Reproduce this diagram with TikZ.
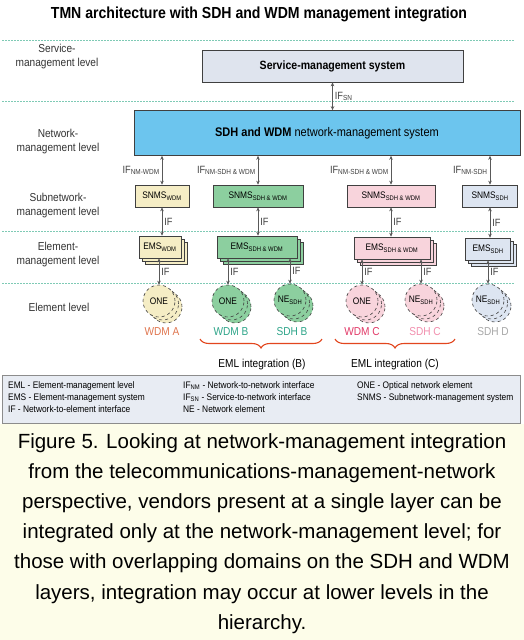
\documentclass[tikz,border=0pt]{standalone}
\usepackage{fontspec}
\setmainfont{Liberation Sans}
\newfontfamily\condfont[FakeStretch=0.88]{Liberation Sans}
\usetikzlibrary{
    arrows.meta,
    decorations.pathreplacing,
    positioning
}
\definecolor{svcfill}{HTML}{DFE4EE}
\definecolor{nmsfill}{HTML}{6CC5EE}
\definecolor{wdmfill}{HTML}{F5EDC5}
\definecolor{grnfill}{HTML}{8CCF9F}
\definecolor{pnkfill}{HTML}{F8D4DC}
\definecolor{sdhfill}{HTML}{DDE5F1}
\definecolor{sepgreen}{HTML}{7FCAB5}
\definecolor{braceclr}{HTML}{E2461E}
\definecolor{wdmAclr}{HTML}{E0764F}
\definecolor{tealclr}{HTML}{2FA58A}
\definecolor{wdmCclr}{HTML}{E23A68}
\definecolor{sdhCclr}{HTML}{F28FAE}
\definecolor{sdhDclr}{HTML}{A8A8A8}
\definecolor{keyfill}{HTML}{E8ECF3}
\definecolor{capbg}{HTML}{FDFDE9}

\begin{document}
\begin{tikzpicture}[x=1pt, y=-1pt,
    lvl/.style={font=\condfont\fontsize{11.5}{13.5}\selectfont, align=center, text=black!80},
    sysbox/.style={draw=black!75, line width=0.6pt, font=\condfont\fontsize{12.5}{14}\selectfont, inner sep=0pt},
    mgr/.style={draw=black!75, line width=0.6pt, font=\condfont\fontsize{9.5}{11}\selectfont, inner sep=0pt, minimum height=22},
    nering/.style={draw=black!75, dashed, line width=0.6pt},
    ne/.style={nering, circle, minimum size=32, inner sep=0pt, font=\condfont\fontsize{9.5}{11}\selectfont},
    link/.style={<->, >={Stealth[length=4pt,width=3.5pt]}, draw=black!65, line width=0.7pt},
    iflbl/.style={font=\condfont\fontsize{10.5}{11}\selectfont, text=black!75, inner sep=2pt},
    sep/.style={draw=sepgreen, dash pattern=on 2pt off 1pt, line width=0.6pt},
    dom/.style={font=\condfont\fontsize{11.5}{13}\selectfont},
    eml/.style={decorate, decoration={brace, mirror, amplitude=9pt}, draw=braceclr, line width=1.1pt},
    key/.style={font=\condfont\fontsize{9.5}{12}\selectfont, align=left, anchor=north west, inner sep=0pt}]
    % stacked EMS box: name, x, y, width, fill, text
    \def\emsstack#1#2#3#4#5#6{
        \foreach \d in {6,3}
            \draw[draw=black!75, line width=0.6pt, fill=#5] ({#2-#4/2+\d},{#3-11+\d}) rectangle ++(#4,22);
        \node[mgr, fill=#5, minimum width=#4] (#1) at (#2,#3) {#6};
    }
    % stacked network elements: name, x, y, fill, text
    \def\nestack#1#2#3#4#5{
        \foreach \d in {7,3.5}
            \draw[nering, fill=#4] ({#2+\d},{#3+0.85*\d}) circle[radius=16pt];
        \node[ne, fill=#4] (#1) at (#2,#3) {#5};
    }

    \fill[white] (0,0) rectangle (524,424);
    \fill[capbg] (0,424) rectangle (524,640);
    \useasboundingbox (0,0) rectangle (524,640);

    \node[font=\condfont\bfseries\fontsize{16}{18}\selectfont] (title) at (259,14)
        {TMN architecture with SDH and WDM management integration};

    \draw[sep] (2,40) -- (514,40);
    \draw[sep] (2,101) -- (514,101);
    \draw[sep] (2,231) -- (514,231);
    \draw[sep] (2,283) -- (514,283);

    % levels
    \node[lvl] (lsvc) at (57,56.5) {Service-\\management level};
    \node[lvl] (lnm)  at (58,141.5) {Network-\\management level};
    \node[lvl] (lsub) at (58,205.5) {Subnetwork-\\management level};
    \node[lvl] (lem)  at (58,254.5) {Element-\\management level};
    \node[lvl] (lel)  at (59,307) {Element level};

    % management systems
    \node[sysbox, fill=svcfill, minimum width=261, minimum height=32, font=\condfont\bfseries\fontsize{12}{14}\selectfont]
        (sms) at (332.5,66) {Service-management system};
    \node[sysbox, fill=nmsfill, minimum width=386, minimum height=45]
        (nms) at (327,133) {\textbf{SDH and WDM} network-management system};
    \draw[link] (sms.south) -- (sms.south |- nms.north) node[iflbl, midway, right] {IF\textsubscript{SN}};

    \node[mgr, fill=wdmfill, minimum width=54] (snmsA) at (162,196) {SNMS\textsubscript{WDM}};
    \node[mgr, fill=grnfill, minimum width=90] (snmsB) at (258,196) {SNMS\textsubscript{SDH \& WDM}};
    \node[mgr, fill=pnkfill, minimum width=88] (snmsC) at (391,196) {SNMS\textsubscript{SDH \& WDM}};
    \node[mgr, fill=sdhfill, minimum width=55] (snmsD) at (490,196) {SNMS\textsubscript{SDH}};

    \draw[link] (snmsA.north |- nms.south) -- (snmsA.north) node[iflbl, midway, left] {IF\textsubscript{NM-WDM}};
    \draw[link] (snmsB.north |- nms.south) -- (snmsB.north) node[iflbl, midway, left] {IF\textsubscript{NM-SDH \& WDM}};
    \draw[link] (snmsC.north |- nms.south) -- (snmsC.north) node[iflbl, midway, left] {IF\textsubscript{NM-SDH \& WDM}};
    \draw[link] (snmsD.north |- nms.south) -- (snmsD.north) node[iflbl, midway, left] {IF\textsubscript{NM-SDH}};

    \emsstack{emsA}{160}{247}{42}{wdmfill}{EMS\textsubscript{WDM}}
    \emsstack{emsB}{257}{247}{80}{grnfill}{EMS\textsubscript{SDH \& WDM}}
    \emsstack{emsC}{392}{248}{76}{pnkfill}{EMS\textsubscript{SDH \& WDM}}
    \emsstack{emsD}{488}{249}{45}{sdhfill}{EMS\textsubscript{SDH}}

    \draw[link] (snmsA.south) -- (snmsA.south |- emsA.north) node[iflbl, midway, right] {IF};
    \draw[link] (snmsB.south) -- (snmsB.south |- emsB.north) node[iflbl, midway, right] {IF};
    \draw[link] (snmsC.south) -- (snmsC.south |- emsC.north) node[iflbl, midway, right] {IF};
    \draw[link] (snmsD.south) -- (snmsD.south |- emsD.north) node[iflbl, midway, right] {IF};

    % network elements
    \nestack{neA}{159}{301}{wdmfill}{ONE}
    \nestack{neB1}{228}{301}{grnfill}{ONE}
    \nestack{neB2}{290}{300}{grnfill}{NE\textsubscript{SDH}}
    \nestack{neC1}{362}{301}{pnkfill}{ONE}
    \nestack{neC2}{421}{300}{pnkfill}{NE\textsubscript{SDH}}
    \nestack{neD}{488}{300}{sdhfill}{NE\textsubscript{SDH}}

    \draw[link] (neA.north |- emsA.south) -- (neA.north) node[iflbl, midway, right] {IF};
    \draw[link] (neB1.north |- emsB.south) -- (neB1.north) node[iflbl, midway, right] {IF};
    \draw[link] (neB2.north |- emsB.south) -- (neB2.north) node[iflbl, midway, right] {IF};
    \draw[link] (neC1.north |- emsC.south) -- (neC1.north) node[iflbl, midway, right] {IF};
    \draw[link] (neC2.north |- emsC.south) -- (neC2.north) node[iflbl, midway, right] {IF};
    \draw[link] (neD.north |- emsD.south) -- (neD.north) node[iflbl, midway, right] {IF};

    \node[dom, text=wdmAclr] (dA)  at (162,332) {WDM A};
    \node[dom, text=tealclr] (dB1) at (231,332) {WDM B};
    \node[dom, text=tealclr] (dB2) at (292,332) {SDH B};
    \node[dom, text=wdmCclr] (dC1) at (362,332) {WDM C};
    \node[dom, text=sdhCclr] (dC2) at (425,332) {SDH C};
    \node[dom, text=sdhDclr] (dD)  at (493,332) {SDH D};

    \draw[eml] (200,339) -- (322,339);
    \draw[eml] (335,339) -- (455,339);
    \node[dom] (emlB) at (262,365) {EML integration (B)};
    \node[dom] (emlC) at (395,365) {EML integration (C)};

    % key
    \node[draw=black!45, line width=0.8pt, fill=keyfill, minimum width=518, minimum height=48, inner sep=0pt] (key) at (261,399) {};
    \node[key] (keyA) at (8,381) {EML - Element-management level\\EMS - Element-management system\\IF - Network-to-element interface};
    \node[key] (keyB) at (183,381) {IF\textsubscript{NM} - Network-to-network interface\\IF\textsubscript{SN} - Service-to-network interface\\NE - Network element};
    \node[key] (keyC) at (357,381) {ONE - Optical network element\\SNMS - Subnetwork-management system};

    % caption
    \node[font=\fontsize{20.5}{30.2}\selectfont, align=center, anchor=north, inner sep=0pt] (cap) at (262,433)
        {Figure 5. Looking at network-management integration\\
         from the telecommunications-management-network\\
         perspective, vendors present at a single layer can be\\
         integrated only at the network-management level; for\\
         those with overlapping domains on the SDH and WDM\\
         layers, integration may occur at lower levels in the\\
         hierarchy.};
\end{tikzpicture}
\end{document}
